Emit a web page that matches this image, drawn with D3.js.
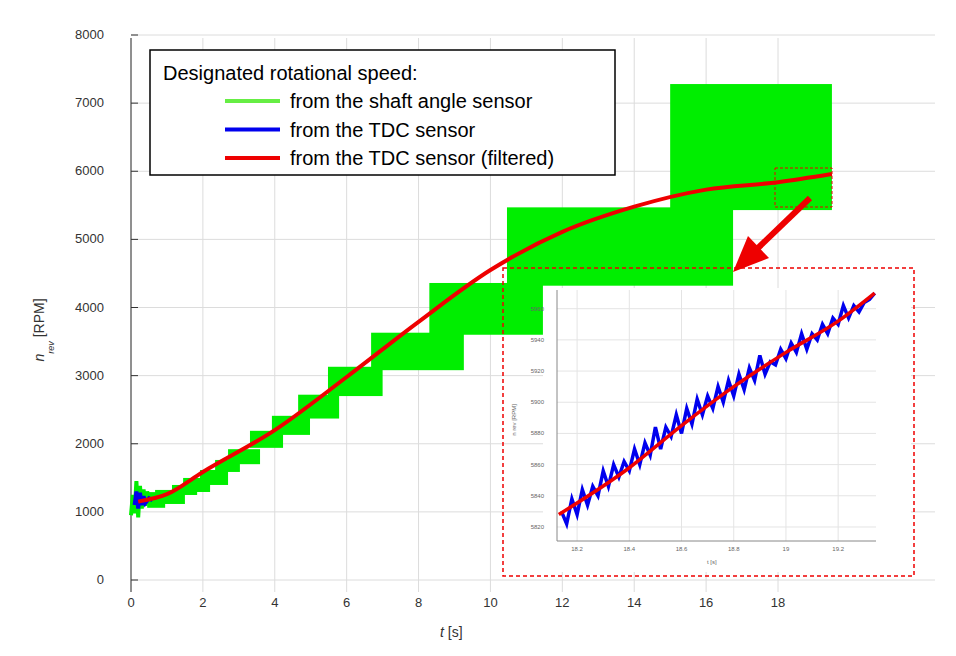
<!DOCTYPE html>
<html><head><meta charset="utf-8">
<script src="https://cdn.jsdelivr.net/npm/d3@7"></script>
<style>body{margin:0;background:#fff}text{font-family:"Liberation Sans",Arial,sans-serif}</style>
</head><body><div id="chart"></div>
<script>
// shaft angle sensor: step boxes [tStart, tEnd, low, high]
const greenBoxes = [
  [15.0, 19.5, 5430, 7280], [10.46, 16.75, 4320, 5470], [8.3, 11.46, 3600, 4360],
  [6.68, 9.26, 3080, 3630], [5.48, 7.0, 2700, 3130], [4.65, 5.79, 2370, 2720],
  [3.92, 4.98, 2130, 2410], [3.31, 4.23, 1940, 2190], [2.7, 3.59, 1700, 1920],
  [2.34, 3.03, 1586, 1762], [1.92, 2.7, 1395, 1615], [1.45, 2.2, 1292, 1498],
  [1.14, 1.84, 1248, 1395], [0.67, 1.5, 1116, 1322], [0.45, 0.95, 1060, 1290]
];
const greenT = [0, 0.05, 0.1, 0.15, 0.2, 0.25, 0.3, 0.35, 0.4, 0.45, 0.5];
const greenV = [950, 1250, 980, 1450, 920, 1380, 1050, 1330, 1090, 1300, 1150];
const blueT = [0.1, 0.15, 0.2, 0.25, 0.3, 0.35, 0.4, 0.5, 0.6];
const blueV = [1100, 1300, 1050, 1280, 1100, 1230, 1130, 1200, 1170];
const redT = [0.2, 1, 2, 4, 6, 8, 10, 12, 14, 16, 18, 19.5];
const redV = [1150, 1260, 1586, 2200, 2980, 3790, 4550, 5110, 5480, 5730, 5840, 5960];
const xTicks = [0, 2, 4, 6, 8, 10, 12, 14, 16, 18];
const yTicks = [0, 1000, 2000, 3000, 4000, 5000, 6000, 7000, 8000];
const legendItems = ["from the shaft angle sensor", "from the TDC sensor", "from the TDC sensor (filtered)"];
const legendColors = ["#66ee44", "#0000ee", "#ee0000"];
// zoomed inset
const insetBlue = [[18.14,5830],[18.16,5822],[18.18,5838],[18.20,5828],[18.22,5844],[18.24,5834],[18.26,5846],[18.28,5840],[18.30,5856],[18.32,5846],[18.34,5860],[18.36,5852],[18.38,5862],[18.40,5856],[18.42,5870],[18.44,5860],[18.46,5874],[18.48,5866],[18.50,5884],[18.52,5870],[18.54,5884],[18.56,5878],[18.58,5892],[18.60,5880],[18.62,5896],[18.64,5886],[18.66,5902],[18.68,5892],[18.70,5904],[18.72,5896],[18.74,5910],[18.76,5900],[18.78,5914],[18.80,5904],[18.82,5918],[18.84,5908],[18.86,5922],[18.88,5914],[18.90,5930],[18.92,5918],[18.94,5926],[18.96,5924],[18.98,5934],[19.00,5928],[19.02,5938],[19.04,5932],[19.06,5944],[19.08,5934],[19.10,5944],[19.12,5940],[19.14,5950],[19.16,5944],[19.18,5954],[19.20,5950],[19.22,5962],[19.24,5954],[19.26,5962],[19.28,5958],[19.30,5964],[19.32,5966],[19.34,5970]];
const insetRedT = [18.13, 18.4, 18.6, 18.8, 19.0, 19.2, 19.34];
const insetRedV = [5828, 5858, 5885, 5910, 5932, 5952, 5970];
const insetXTicks = [18.2, 18.4, 18.6, 18.8, 19, 19.2];
const insetYTicks = [5820, 5840, 5860, 5880, 5900, 5920, 5940, 5960];

const W = 956, H = 656;
const svg = d3.select("#chart").append("svg").attr("width", W).attr("height", H);

const x = d3.scaleLinear().domain([0, 18]).range([131, 778]);
const y = d3.scaleLinear().domain([0, 8000]).range([580, 35]);

// grid
svg.append("g").selectAll("line").data(xTicks).join("line")
  .attr("x1", d => x(d)).attr("x2", d => x(d)).attr("y1", 38).attr("y2", 592)
  .attr("stroke", "#dcdcdc");
svg.append("g").selectAll("line").data(yTicks).join("line")
  .attr("x1", 131).attr("x2", 935).attr("y1", d => y(d)).attr("y2", d => y(d))
  .attr("stroke", "#dcdcdc");
svg.append("line").attr("x1", 131).attr("x2", 131).attr("y1", 38).attr("y2", 592).attr("stroke", "#333");
svg.append("g").selectAll("line").data(yTicks).join("line")
  .attr("x1", 131).attr("x2", 138).attr("y1", d => y(d)).attr("y2", d => y(d)).attr("stroke", "#333");

svg.append("g").selectAll("text").data(xTicks).join("text")
  .attr("x", d => x(d)).attr("y", 607).attr("text-anchor", "middle")
  .attr("font-size", 13).attr("fill", "#333").text(d => d);
svg.append("g").selectAll("text").data(yTicks).join("text")
  .attr("x", 104).attr("y", d => y(d) + 4).attr("text-anchor", "end")
  .attr("font-size", 13).attr("fill", "#333").text(d => d);

// axis labels
const xl = svg.append("text").attr("x", 440).attr("y", 637).attr("font-size", 14).attr("fill", "#333");
xl.append("tspan").attr("font-style", "italic").text("t");
xl.append("tspan").text("  [s]");
const yl = svg.append("text").attr("transform", "translate(44,330) rotate(-90)").attr("text-anchor", "middle")
  .attr("font-size", 14).attr("fill", "#333");
yl.append("tspan").attr("font-style", "italic").text("n");
yl.append("tspan").attr("font-size", 9).attr("font-style", "italic").attr("dy", 10).text("rev");
yl.append("tspan").attr("dy", -10).text("    [RPM]");

// data
svg.append("g").selectAll("rect").data(greenBoxes).join("rect")
  .attr("x", d => x(d[0])).attr("width", d => x(d[1]) - x(d[0]))
  .attr("y", d => y(d[3])).attr("height", d => y(d[2]) - y(d[3]))
  .attr("fill", "#00ee00");
const line = d3.line().x(d => x(d[0])).y(d => y(d[1]));
svg.append("path").attr("d", line(greenT.map((t, i) => [t, greenV[i]])))
  .attr("fill", "none").attr("stroke", "#00ee00").attr("stroke-width", 4);
svg.append("path").attr("d", line(blueT.map((t, i) => [t, blueV[i]])))
  .attr("fill", "none").attr("stroke", "#0000ee").attr("stroke-width", 4);
svg.append("path").attr("d", d3.line().curve(d3.curveMonotoneX).x(d => x(d[0])).y(d => y(d[1]))(redT.map((t, i) => [t, redV[i]])))
  .attr("fill", "none").attr("stroke", "#ee0000").attr("stroke-width", 4);

// small zoom marker and arrow
svg.append("rect").attr("x", 775).attr("y", 168).attr("width", 57).attr("height", 39)
  .attr("fill", "none").attr("stroke", "#ee0000").attr("stroke-dasharray", "3,2");
svg.append("line").attr("x1", 810).attr("y1", 198).attr("x2", 758).attr("y2", 248)
  .attr("stroke", "#ee0000").attr("stroke-width", 6);
svg.append("path").attr("d", "M733,272 L748,236 L769,258 Z").attr("fill", "#ee0000");

// inset
svg.append("rect").attr("x", 543).attr("y", 288).attr("width", 368).attr("height", 284).attr("fill", "#fff");
const ix = d3.scaleLinear().domain([18.123, 19.345]).range([557, 876]);
const iy = d3.scaleLinear().domain([5811, 5972]).range([541, 290]);
svg.append("g").selectAll("line").data(insetXTicks).join("line")
  .attr("x1", d => ix(d)).attr("x2", d => ix(d)).attr("y1", 290).attr("y2", 541).attr("stroke", "#e4e4e4");
svg.append("g").selectAll("line").data(insetYTicks).join("line")
  .attr("x1", 557).attr("x2", 876).attr("y1", d => iy(d)).attr("y2", d => iy(d)).attr("stroke", "#e4e4e4");
svg.append("path").attr("d", `M557,290 V541 H876`).attr("fill", "none").attr("stroke", "#888");
svg.append("g").selectAll("text").data(insetXTicks).join("text")
  .attr("x", d => ix(d)).attr("y", 551).attr("text-anchor", "middle").attr("font-size", 6).attr("fill", "#666").text(d => d);
svg.append("g").selectAll("text").data(insetYTicks).join("text")
  .attr("x", 544).attr("y", d => iy(d) + 2).attr("text-anchor", "end").attr("font-size", 6).attr("fill", "#666").text(d => d);
svg.append("text").attr("x", 707).attr("y", 564).attr("font-size", 6).attr("fill", "#666").text("t  [s]");
svg.append("text").attr("transform", "translate(516,420) rotate(-90)").attr("text-anchor", "middle")
  .attr("font-size", 6).attr("fill", "#666").text("n   rev   [RPM]");
const iline = d3.line().x(d => ix(d[0])).y(d => iy(d[1]));
svg.append("path").attr("d", iline(insetBlue)).attr("fill", "none").attr("stroke", "#0000ee").attr("stroke-width", 3.5);
svg.append("path").attr("d", d3.line().curve(d3.curveMonotoneX).x(d => ix(d[0])).y(d => iy(d[1]))(insetRedT.map((t, i) => [t, insetRedV[i]])))
  .attr("fill", "none").attr("stroke", "#ee0000").attr("stroke-width", 3.5);
svg.append("rect").attr("x", 503).attr("y", 268).attr("width", 411).attr("height", 308)
  .attr("fill", "none").attr("stroke", "#ee0000").attr("stroke-width", 1.5).attr("stroke-dasharray", "4,3");

// legend
svg.append("rect").attr("x", 150).attr("y", 50).attr("width", 465).attr("height", 125)
  .attr("fill", "#fff").attr("stroke", "#000").attr("stroke-width", 1.5);
svg.append("text").attr("x", 163).attr("y", 80).attr("font-size", 20).text("Designated rotational speed:");
const lg = svg.append("g").selectAll("g").data(legendItems).join("g")
  .attr("transform", (d, i) => `translate(0,${101 + i * 28.5})`);
lg.append("line").attr("x1", 225).attr("x2", 280).attr("stroke", (d, i) => legendColors[i]).attr("stroke-width", 4);
lg.append("text").attr("x", 290).attr("y", 7).attr("font-size", 20).text(d => d);
</script></body></html>
